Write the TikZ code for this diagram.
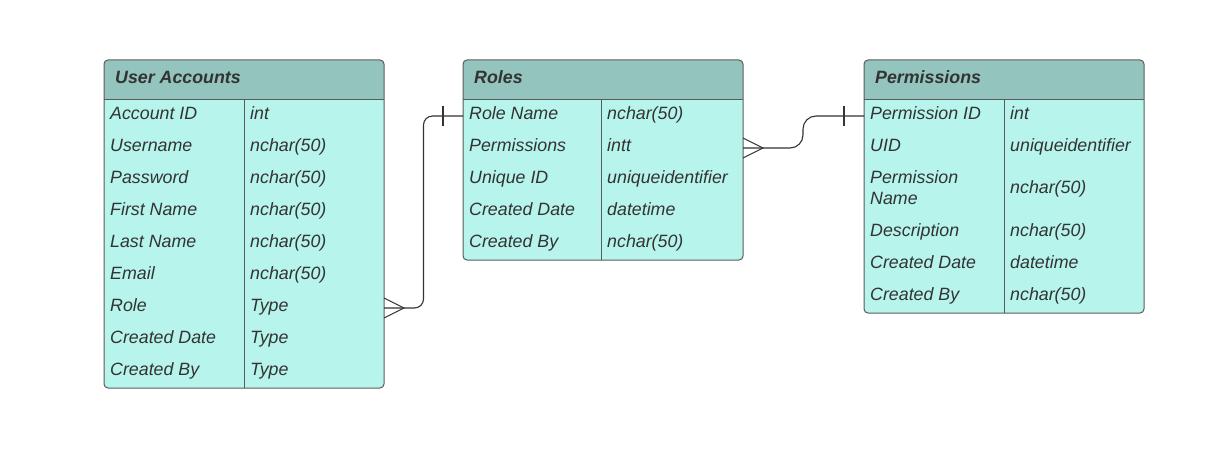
\documentclass[tikz,border=0pt]{standalone}
\usepackage{fontspec}
\setmainfont{Liberation Sans}
\usetikzlibrary{calc}
\definecolor{headc}{RGB}{147,196,189}
\definecolor{rowc}{RGB}{182,244,236}
\definecolor{bordc}{RGB}{90,90,90}
\definecolor{txtc}{RGB}{51,51,51}
\tikzset{
  celltext/.style={anchor=base west, inner sep=0pt, text=txtc, font=\fontsize{17.8}{21}\selectfont\itshape},
  headtext/.style={anchor=base west, inner sep=0pt, text=txtc, font=\fontsize{17.8}{21}\selectfont\bfseries\itshape},
  tableborder/.style={draw=bordc, line width=1pt, rounded corners=4pt},
  divline/.style={draw=bordc, line width=1pt},
  conn/.style={draw=txtc, line width=1.1pt},
  connend/.style={draw=txtc, line width=1.1pt},
}
\newcommand{\ertable}[5]{%
  % #1 name, #2 x1, #3 x2, #4 y2, #5 divider x
  \coordinate (#1-nw) at (#2,60);
  \coordinate (#1-se) at (#3,#4);
  \coordinate (#1-hw) at (#2,100);
  \coordinate (#1-he) at (#3,100);
  \coordinate (#1-dt) at (#5,100);
  \coordinate (#1-db) at (#5,#4);
  \begin{scope}
    \clip[rounded corners=4pt] (#1-nw) rectangle (#1-se);
    \fill[rowc] (#1-nw) rectangle (#1-se);
    \fill[headc] (#1-nw) rectangle (#1-he);
  \end{scope}
  \draw[tableborder] (#1-nw) rectangle (#1-se);
  \draw[divline] (#1-hw) -- (#1-he);
  \draw[divline] (#1-dt) -- (#1-db);
}
\begin{document}
\begin{tikzpicture}[x=1pt,y=-1pt]
\useasboundingbox (0,0) rectangle (1228,473);

% ---------- User Accounts ----------
\ertable{ua}{104}{384}{388}{244}
\node[headtext] (ua-title) at (115,83.5) {User Accounts};
\node[celltext] (ua-k1) at (110,119.5) {Account ID};
\node[celltext] (ua-v1) at (250,119.5) {int};
\node[celltext] (ua-k2) at (110,151.5) {Username};
\node[celltext] (ua-v2) at (250,151.5) {nchar(50)};
\node[celltext] (ua-k3) at (110,183.5) {Password};
\node[celltext] (ua-v3) at (250,183.5) {nchar(50)};
\node[celltext] (ua-k4) at (110,215.5) {First Name};
\node[celltext] (ua-v4) at (250,215.5) {nchar(50)};
\node[celltext] (ua-k5) at (110,247.5) {Last Name};
\node[celltext] (ua-v5) at (250,247.5) {nchar(50)};
\node[celltext] (ua-k6) at (110,279.5) {Email};
\node[celltext] (ua-v6) at (250,279.5) {nchar(50)};
\node[celltext] (ua-k7) at (110,311.5) {Role};
\node[celltext] (ua-v7) at (250,311.5) {Type};
\node[celltext] (ua-k8) at (110,343.5) {Created Date};
\node[celltext] (ua-v8) at (250,343.5) {Type};
\node[celltext] (ua-k9) at (110,375.5) {Created By};
\node[celltext] (ua-v9) at (250,375.5) {Type};

% ---------- Roles ----------
\ertable{ro}{463}{743}{260}{601}
\node[headtext] (ro-title) at (474,83.5) {Roles};
\node[celltext] (ro-k1) at (469,119.5) {Role Name};
\node[celltext] (ro-v1) at (607,119.5) {nchar(50)};
\node[celltext] (ro-k2) at (469,151.5) {Permissions};
\node[celltext] (ro-v2) at (607,151.5) {intt};
\node[celltext] (ro-k3) at (469,183.5) {Unique ID};
\node[celltext] (ro-v3) at (607,183.5) {uniqueidentifier};
\node[celltext] (ro-k4) at (469,215.5) {Created Date};
\node[celltext] (ro-v4) at (607,215.5) {datetime};
\node[celltext] (ro-k5) at (469,247.5) {Created By};
\node[celltext] (ro-v5) at (607,247.5) {nchar(50)};

% ---------- Permissions ----------
\ertable{pe}{864}{1144}{313}{1004}
\node[headtext] (pe-title) at (875,83.5) {Permissions};
\node[celltext] (pe-k1) at (870,119.5) {Permission ID};
\node[celltext] (pe-v1) at (1010,119.5) {int};
\node[celltext] (pe-k2) at (870,151.5) {UID};
\node[celltext] (pe-v2) at (1010,151.5) {uniqueidentifier};
\node[celltext] (pe-k3a) at (870,183.5) {Permission};
\node[celltext] (pe-k3b) at (870,204.5) {Name};
\node[celltext] (pe-v3) at (1010,193.5) {nchar(50)};
\node[celltext] (pe-k4) at (870,236.5) {Description};
\node[celltext] (pe-v4) at (1010,236.5) {nchar(50)};
\node[celltext] (pe-k5) at (870,268.5) {Created Date};
\node[celltext] (pe-v5) at (1010,268.5) {datetime};
\node[celltext] (pe-k6) at (870,300.5) {Created By};
\node[celltext] (pe-v6) at (1010,300.5) {nchar(50)};

% ---------- Connectors ----------
\coordinate (ua-role-e) at (384,308);
\coordinate (ro-name-w) at (463,116);
\coordinate (ro-perm-e) at (743,148);
\coordinate (pe-id-w) at (864,116);

% User Accounts (many) -- Roles (one)
\draw[conn, rounded corners=9pt] (ua-role-e) -- ++(39.5,0) |- (ro-name-w);
\draw[connend] ($(ua-role-e)+(0,-10)$) -- ($(ua-role-e)+(20,0)$) -- ($(ua-role-e)+(0,10)$);
\draw[connend] ($(ro-name-w)+(-20,-10)$) -- ($(ro-name-w)+(-20,10)$);

% Roles (many) -- Permissions (one)
\draw[conn, rounded corners=13pt] (ro-perm-e) -- ++(60,0) |- (pe-id-w);
\draw[connend] ($(ro-perm-e)+(0,-10)$) -- ($(ro-perm-e)+(20,0)$) -- ($(ro-perm-e)+(0,10)$);
\draw[connend] ($(pe-id-w)+(-20,-10)$) -- ($(pe-id-w)+(-20,10)$);
\end{tikzpicture}
\end{document}
